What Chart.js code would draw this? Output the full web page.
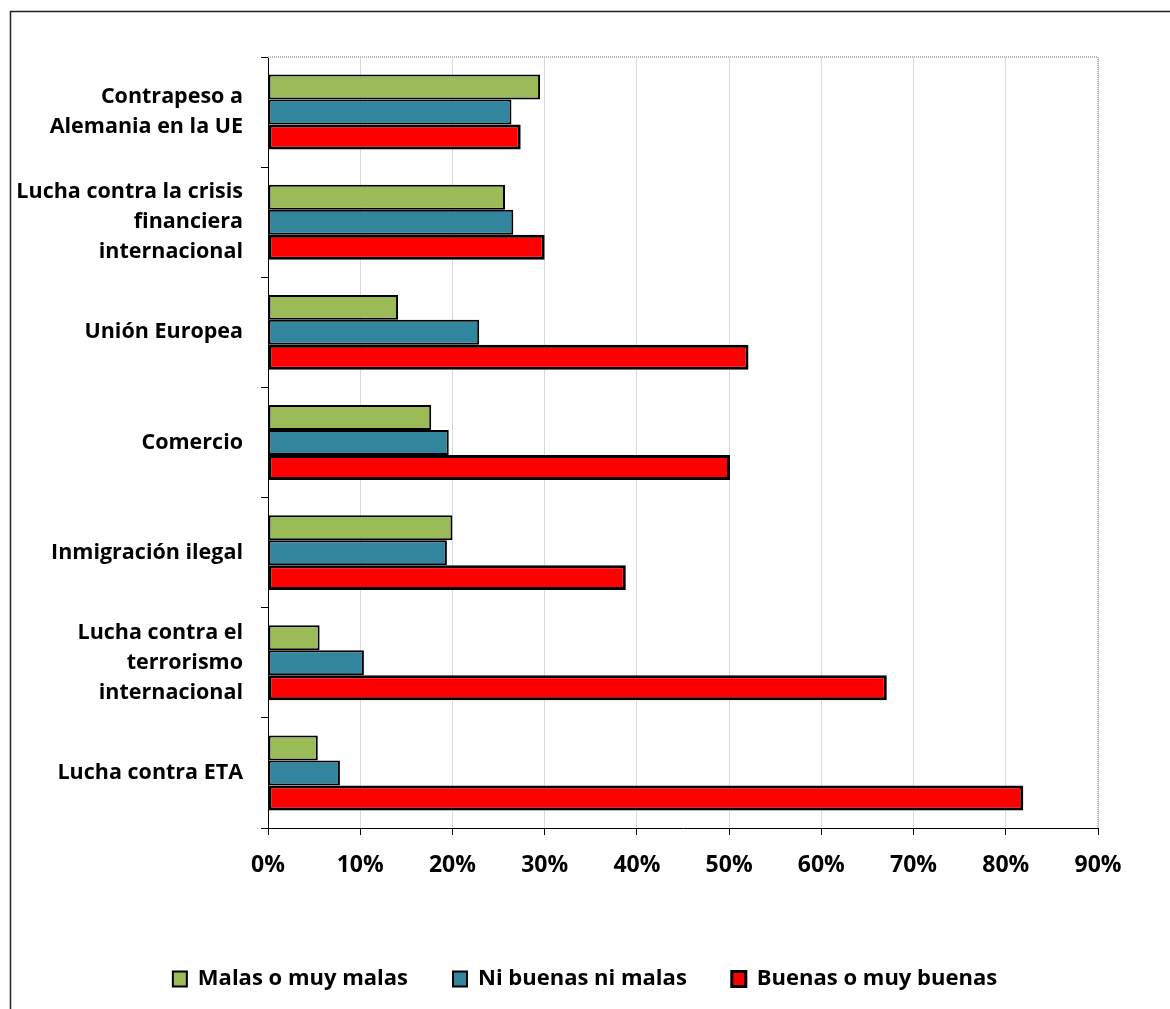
<!DOCTYPE html>
<html>
<head>
<meta charset="utf-8">
<script src="https://cdn.jsdelivr.net/npm/chart.js@4.4.1/dist/chart.umd.min.js"></script>
<style>
    html, body { margin: 0; padding: 0; background: #fff; }
    #wrap { position: absolute; left: 0; top: 0; width: 1170px; height: 1009px; }
</style>
</head>
<body>
<div id="wrap"><canvas id="chart" width="1170" height="1009"></canvas></div>
<script>
const categories = [
    ["Contrapeso a", "Alemania en la UE"],
    ["Lucha contra la crisis", "financiera", "internacional"],
    ["Unión Europea"],
    ["Comercio"],
    ["Inmigración ilegal"],
    ["Lucha contra el", "terrorismo", "internacional"],
    ["Lucha contra ETA"]
]
const seriesNames = ["Malas o muy malas", "Ni buenas ni malas", "Buenas o muy buenas"]
const malas = [29.5, 25.7, 14.1, 17.7, 20.0, 5.6, 5.4]
const ninguna = [26.4, 26.6, 22.9, 19.6, 19.4, 10.4, 7.8]
const buenas = [27.4, 30.0, 52.1, 50.1, 38.8, 67.1, 81.9]
const xTicks = [0, 10, 20, 30, 40, 50, 60, 70, 80, 90]

const fontFamily = "'Open Sans', Lato, sans-serif"

// frame round the picture + dotted top/right border of the plot area
const framePlugin = {
    id: 'frame',
    afterLayout(chart) {
        // centre the legend on the whole picture, not on the padded box
        if (chart.legend) chart.legend.left += 72
    },
    beforeDraw(chart) {
        const ctx = chart.ctx
        ctx.save()
        ctx.strokeStyle = '#222'
        ctx.lineWidth = 1.5
        ctx.beginPath()
        ctx.moveTo(10.5, 1009)
        ctx.lineTo(10.5, 11.5)
        ctx.lineTo(1170, 11.5)
        ctx.stroke()
        ctx.restore()
    },
    afterDatasetsDraw(chart) {
        const ctx = chart.ctx
        const a = chart.chartArea
        ctx.save()
        ctx.strokeStyle = '#bbb'
        ctx.lineWidth = 2
        ctx.setLineDash([1, 1])
        ctx.beginPath()
        ctx.moveTo(a.left, a.top)
        ctx.lineTo(a.right, a.top)
        ctx.lineTo(a.right, a.bottom)
        ctx.stroke()
        ctx.restore()
    }
}

var ctx = document.getElementById('chart').getContext('2d')

var myChart = new Chart(ctx, {
    type: 'bar',
    data: {
        labels: categories,
        datasets: [{
            label: seriesNames[0],
            data: malas,
            backgroundColor: '#9bbb59',
            borderColor: '#000',
            borderWidth: 2
        }, {
            label: seriesNames[1],
            data: ninguna,
            backgroundColor: '#31859c',
            borderColor: '#000',
            borderWidth: 2
        }, {
            label: seriesNames[2],
            data: buenas,
            backgroundColor: '#ff0000',
            borderColor: '#000',
            borderWidth: 3
        }]
    },
    options: {
        indexAxis: 'y',
        responsive: false,
        animation: false,
        layout: {
            padding: { left: 0, top: 57, right: 72, bottom: 9 }
        },
        datasets: {
            bar: {
                categoryPercentage: 0.68,
                barPercentage: 1,
                borderSkipped: false
            }
        },
        scales: {
            x: {
                min: 0,
                max: 90,
                afterBuildTicks: (scale) => {
                    scale.ticks = xTicks.map(v => ({ value: v }))
                },
                afterFit: (scale) => { scale.height = 95 },
                grid: {
                    color: '#d9d9d9',
                    lineWidth: 1,
                    tickColor: '#000',
                    tickLength: 7
                },
                border: { color: '#000', width: 1 },
                ticks: {
                    color: '#000',
                    padding: 17,
                    font: { family: fontFamily, size: 23, weight: 'bold' },
                    callback: (v) => v + '%'
                }
            },
            y: {
                afterFit: (scale) => { scale.width = 268 },
                grid: {
                    offset: true,
                    drawOnChartArea: false,
                    tickColor: '#000',
                    tickLength: 7
                },
                border: { color: '#000', width: 1 },
                ticks: {
                    color: '#000',
                    padding: 18,
                    font: { family: fontFamily, size: 21.5, weight: 'bold', lineHeight: 1.4 }
                }
            }
        },
        plugins: {
            tooltip: { enabled: false },
            legend: {
                position: 'bottom',
                labels: {
                    color: '#000',
                    boxWidth: 14,
                    boxHeight: 15,
                    padding: 45,
                    font: { family: fontFamily, size: 22, weight: 'bold' }
                }
            }
        }
    },
    plugins: [framePlugin]
})
</script>
</body>
</html>
